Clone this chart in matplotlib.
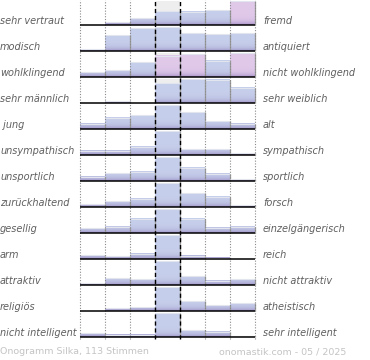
import numpy as np
import matplotlib
matplotlib.use("Agg")
import matplotlib.pyplot as plt
from matplotlib.colors import to_rgb

# ---- data ----
left_labels = ["sehr vertraut", "modisch", "wohlklingend", "sehr männlich", " jung",
               "unsympathisch", "unsportlich", "zurückhaltend", "gesellig", "arm",
               "attraktiv", "religiös", "nicht intelligent"]
right_labels = ["fremd", "antiquiert", "nicht wohlklingend", "sehr weiblich", "alt",
                "sympathisch", "sportlich", "forsch", "einzelgängerisch", "reich",
                "nicht attraktiv", "atheistisch", "sehr intelligent"]
# bar heights per row, relative to the row's full height (0-100), 7 scale steps
row_sehr_vertraut = [0, 11, 28, 57, 56, 61, 100]
row_modisch = [7, 65, 95, 100, 74, 70, 74]
row_wohlklingend = [20, 28, 61, 88, 95, 68, 100]
row_maennlich = [0, 8, 0, 83, 100, 96, 64]
row_jung = [21, 47, 57, 100, 70, 33, 22]
row_unsympathisch = [18, 18, 35, 100, 24, 24, 7]
row_unsportlich = [18, 32, 39, 100, 55, 30, 8]
row_zurueckhaltend = [11, 24, 35, 100, 57, 43, 8]
row_gesellig = [20, 26, 60, 100, 60, 22, 26]
row_arm = [15, 11, 22, 100, 14, 5, 0]
row_attraktiv = [8, 28, 24, 100, 36, 18, 24]
row_religioes = [0, 11, 15, 100, 40, 24, 32]
row_intelligent = [15, 10, 10, 100, 29, 21, 3]
rows = [row_sehr_vertraut, row_modisch, row_wohlklingend, row_maennlich, row_jung,
        row_unsympathisch, row_unsportlich, row_zurueckhaltend, row_gesellig, row_arm,
        row_attraktiv, row_religioes, row_intelligent]
footer_left = "Onogramm Silka, 113 Stimmen"
footer_right = "onomastik.com - 05 / 2025"

# style: which bars are shown in pink (row, column)
pink_bars = {(0, 6), (2, 3), (2, 4), (2, 6)}

W, H = 370, 360
fig = plt.figure(figsize=(W / 100, H / 100), dpi=100)
ax = fig.add_axes([0, 0, 1, 1])
ax.set_axis_off()

# coordinate system: columns 0..7 -> px 80..255 ; row r baseline -> y=-r (1 unit = 26 px)
colw, x0px = 25.0, 80.0
rowh, y0px = 26.0, 25.0
ax.set_xlim((0 - x0px) / colw, (W - x0px) / colw)
ax.set_ylim(-(H - y0px) / rowh, y0px / rowh)
full = 24.0 / rowh
px = 1.0 / rowh


def bar_gradient(top, bottom, npx, ss=4):
    # supersampled vertical gradient: mostly top colour, purple towards the bottom
    n = max(int(round(npx * ss)), 2)
    d = (np.arange(n)[::-1] + 0.5) / ss  # distance from bottom in px (row 0 = top)
    w = np.exp(-d / 2.6)
    a = np.array(to_rgb(top))[None, :]
    b = np.array(to_rgb(bottom))[None, :]
    g = a * (1 - w[:, None]) + b * w[:, None]
    return g[:, None, :]


nrows = len(rows)
for r, vals in enumerate(rows):
    base = -r
    # light grey background of the neutral column
    ax.fill_between([3, 4], base, base + full, color="#eeeeee", lw=0, zorder=1)
    for c, v in enumerate(vals):
        h = min(v, 100) / 100.0 * full
        if h <= 0:
            continue
        if (r, c) in pink_bars:
            g = bar_gradient("#e0c9e9", "#9c88c2", h / px)
        else:
            g = bar_gradient("#c6cfeb", "#9a8cc3", h / px)
        ax.imshow(g, extent=(c, c + 1, base, base + h), origin="upper",
                  aspect="auto", interpolation="bilinear", zorder=2)
        # top highlight and right shadow
        ax.plot([c, c + 1], [base + h, base + h], color="#e2e4ee", lw=0.8, zorder=3,
                solid_capstyle="butt")
        ax.plot([c + 1, c + 1], [base, base + h], color="#9a9a9a", lw=0.9, zorder=3,
                solid_capstyle="butt")
    ax.plot([0, 7], [base, base], color="black", lw=1.1, zorder=5, solid_capstyle="butt")
    ty = base + 4.5 * px
    ax.text(0 - x0px / colw, ty, left_labels[r], fontsize=7, style="italic",
            color="#5f5f5f", va="center", ha="left", zorder=6)
    ax.text((263 - x0px) / colw, ty, right_labels[r], fontsize=7, style="italic",
            color="#5f5f5f", va="center", ha="left", zorder=6)

ytop = y0px / rowh
ybot = -(nrows - 1) - 2 * px
for c in [0, 1, 2, 5, 6, 7]:
    ax.plot([c, c], [ybot, ytop], color="#8a8a8a", lw=0.8, ls=(0, (1, 1.5)), zorder=4)
for c in [3, 4]:
    ax.plot([c, c], [ybot, ytop], color="black", lw=1.0, ls=(0, (3, 2)), zorder=6)

fy = -(352 - y0px) / rowh
ax.text(0 - x0px / colw, fy, footer_left, fontsize=6.8, color="#c4c4c4",
        va="center", ha="left")
ax.text((346 - x0px) / colw, fy, footer_right, fontsize=6.8, color="#c4c4c4",
        va="center", ha="right")

fig.savefig("out.png", dpi=100)
